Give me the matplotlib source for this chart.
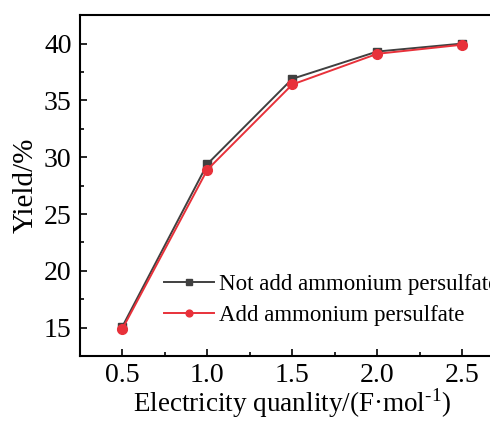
import matplotlib
matplotlib.use("Agg")
import matplotlib.pyplot as plt
from matplotlib.ticker import MultipleLocator

plt.rcParams['font.family'] = ['Liberation Serif', 'DejaVu Serif']
plt.rcParams['mathtext.fontset'] = 'custom'
plt.rcParams['mathtext.rm'] = 'Liberation Serif'

quantity = [0.5, 1.0, 1.5, 2.0, 2.5]
yield_not_add = [15.1, 29.4, 36.9, 39.3, 40.0]
yield_add = [14.9, 28.9, 36.4, 39.1, 39.9]
labels = ["Not add ammonium persulfate", "Add ammonium persulfate"]

fig = plt.figure(figsize=(4.9, 4.21), dpi=100)
ax = fig.add_axes([0.163, 0.154, 0.867, 0.81])

ax.plot(quantity, yield_not_add, linestyle="-", color="#404040", marker="s",
        markersize=6, linewidth=1.4, label=labels[0])
ax.plot(quantity, yield_add, linestyle="-", color="#e8313a", marker="o",
        markersize=7, linewidth=1.4, label=labels[1])

ax.set_xlim(0.25, 2.75)
ax.set_ylim(12.5, 42.5)
ax.xaxis.set_major_locator(MultipleLocator(0.5))
ax.xaxis.set_minor_locator(MultipleLocator(0.25))
ax.yaxis.set_major_locator(MultipleLocator(5))
ax.yaxis.set_minor_locator(MultipleLocator(2.5))
ax.xaxis.set_major_formatter(plt.FormatStrFormatter('%.1f'))
ax.tick_params(which='both', direction='in', labelsize=20, width=1.2)
ax.tick_params(which='major', length=5)
ax.tick_params(which='minor', length=3)
ax.tick_params(axis='x', pad=5)
ax.tick_params(axis='y', pad=6)
for s in ax.spines.values():
    s.set_linewidth(1.5)

ax.set_xlabel("Electricity quanlity/(F\u00b7mol$^{\\text{-1}}$)", fontsize=19.5, labelpad=-1.5)
ax.set_ylabel("Yield/%", fontsize=21, labelpad=4)

ax.legend(loc='center left', bbox_to_anchor=(0.149, 0.165), frameon=False,
          fontsize=16.5, handlelength=2.2, labelspacing=0.42, handletextpad=0.2,
          markerscale=0.7)

plt.savefig("out.png", dpi=100)
plt.close()
